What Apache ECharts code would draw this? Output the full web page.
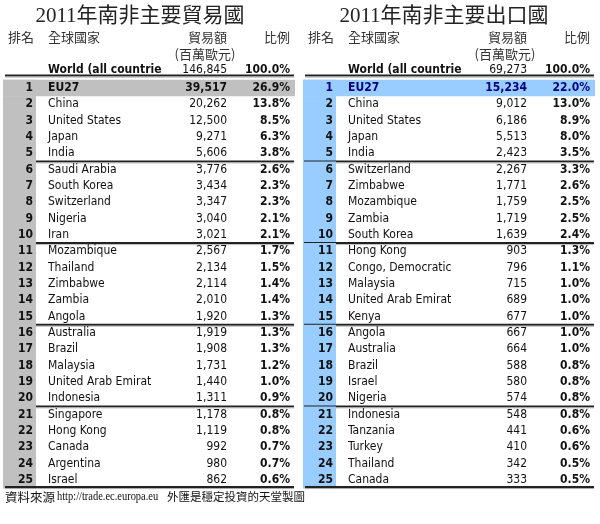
<!DOCTYPE html>
<html>
<head>
<meta charset="utf-8">
<script src="https://cdn.jsdelivr.net/npm/echarts@6/dist/echarts.min.js"></script>
<style>
  html, body { margin: 0; padding: 0; background: #fff; }
  #chart { width: 600px; height: 524px; }
</style>
</head>
<body>
<div id="chart"></div>
<script>
// 2011年南非主要貿易國
const tradeCountries = ['EU27', 'China', 'United States', 'Japan', 'India',
  'Saudi Arabia', 'South Korea', 'Switzerland', 'Nigeria', 'Iran',
  'Mozambique', 'Thailand', 'Zimbabwe', 'Zambia', 'Angola',
  'Australia', 'Brazil', 'Malaysia', 'United Arab Emirates', 'Indonesia',
  'Singapore', 'Hong Kong', 'Canada', 'Argentina', 'Israel']
const tradeValues = [39517, 20262, 12500, 9271, 5606, 3776, 3434, 3347, 3040, 3021,
  2567, 2134, 2114, 2010, 1920, 1919, 1908, 1731, 1440, 1311, 1178, 1119, 992, 980, 862]
const tradeShares = [26.9, 13.8, 8.5, 6.3, 3.8, 2.6, 2.3, 2.3, 2.1, 2.1,
  1.7, 1.5, 1.4, 1.4, 1.3, 1.3, 1.3, 1.2, 1.0, 0.9, 0.8, 0.8, 0.7, 0.7, 0.6]
const tradeWorld = 146845

// 2011年南非主要出口國
const exportCountries = ['EU27', 'China', 'United States', 'Japan', 'India',
  'Switzerland', 'Zimbabwe', 'Mozambique', 'Zambia', 'South Korea',
  'Hong Kong', 'Congo, Democratic Republic', 'Malaysia', 'United Arab Emirates', 'Kenya',
  'Angola', 'Australia', 'Brazil', 'Israel', 'Nigeria',
  'Indonesia', 'Tanzania', 'Turkey', 'Thailand', 'Canada']
const exportValues = [15234, 9012, 6186, 5513, 2423, 2267, 1771, 1759, 1719, 1639,
  903, 796, 715, 689, 677, 667, 664, 588, 580, 574, 548, 441, 410, 342, 333]
const exportShares = [22.0, 13.0, 8.9, 8.0, 3.5, 3.3, 2.6, 2.5, 2.5, 2.4,
  1.3, 1.1, 1.0, 1.0, 1.0, 1.0, 1.0, 0.8, 0.8, 0.8, 0.8, 0.6, 0.6, 0.5, 0.5]
const exportWorld = 69273

const ranks = tradeCountries.map(function (_, i) { return i + 1 })

const titles = ['2011年南非主要貿易國', '2011年南非主要出口國']
const headers = ['排名', '全球國家', '貿易額', '(百萬歐元)', '比例']
const sourceLabel = '資料來源'
const sourceUrl = 'http://trade.ec.europa.eu'
const credit = '外匯是穩定投資的天堂製圖'

const TXT = "'DejaVu Sans Condensed', 'DejaVu Sans', sans-serif"
const CJK = "'Noto Sans CJK TC', sans-serif"
const WORLD_ROW = -0.1
const TOP_RULE = 0.24
const NAME_W = 116

function fmt(v) { return v.toLocaleString('en-US') }

function makeRender(countries, values, shares, world, look) {
  return function (params, api) {
    const i = params.dataIndex
    const rank = api.value(0)
    const p = api.coord([0, rank])
    const right = api.coord([292, rank])[0]
    const h = api.size([0, 1])[1]
    const top = p[1] - h / 2
    const cx = function (x) { return api.coord([x, rank])[0] }
    const bold = rank === 1
    const color = rank === 1 ? look.firstText : '#111'
    const kids = []

    if (rank === 1) {
      kids.push({ type: 'rect', shape: { x: p[0], y: top, width: right - p[0], height: h },
        style: { fill: look.fill } })
    }
    kids.push({ type: 'rect', shape: { x: p[0], y: top, width: cx(33) - p[0], height: h + 0.5 },
      style: { fill: look.fill } })

    kids.push({ type: 'text', style: { x: cx(30), y: p[1], text: String(rank), align: 'right',
      verticalAlign: 'middle', font: 'bold 12px ' + TXT, fill: color } })
    kids.push({ type: 'text', style: { x: cx(45), y: p[1], text: countries[i], align: 'left',
      verticalAlign: 'middle', font: (bold ? 'bold ' : '') + '12px ' + TXT, fill: color,
      width: NAME_W, overflow: 'truncate', ellipsis: '' } })
    kids.push({ type: 'text', style: { x: cx(224), y: p[1], text: fmt(values[i]), align: 'right',
      verticalAlign: 'middle', font: (bold ? 'bold ' : '') + '12px ' + TXT, fill: color } })
    kids.push({ type: 'text', style: { x: cx(287), y: p[1], text: shares[i].toFixed(1) + '%', align: 'right',
      verticalAlign: 'middle', font: 'bold 12px ' + TXT, fill: color } })

    const bottom = top + h
    if (rank === 25) {
      kids.push({ type: 'line', shape: { x1: cx(2), y1: bottom - 1, x2: cx(291), y2: bottom - 1 },
        style: { stroke: '#222', lineWidth: 2 } })
      kids.push({ type: 'line', shape: { x1: cx(2), y1: bottom + 0.5, x2: cx(291), y2: bottom + 0.5 },
        style: { stroke: '#aaa', lineWidth: 1 } })
    } else if (rank % 5 === 0) {
      kids.push({ type: 'line', shape: { x1: cx(look.ruleStart), y1: bottom, x2: cx(291), y2: bottom },
        style: { stroke: '#222', lineWidth: 2 } })
      kids.push({ type: 'line', shape: { x1: cx(look.ruleStart), y1: bottom + 1.5, x2: cx(291), y2: bottom + 1.5 },
        style: { stroke: '#bbb', lineWidth: 1 } })
    }

    if (i === 0) {
      const wy = api.coord([0, WORLD_ROW])[1]
      const ty = api.coord([0, TOP_RULE])[1]
      kids.push({ type: 'text', style: { x: cx(45), y: wy, text: 'World (all countries)', align: 'left',
        verticalAlign: 'middle', font: 'bold 12px ' + TXT, fill: '#111',
        width: NAME_W + 2, overflow: 'truncate', ellipsis: '' } })
      kids.push({ type: 'text', style: { x: cx(224), y: wy, text: fmt(world), align: 'right',
        verticalAlign: 'middle', font: '12px ' + TXT, fill: '#111' } })
      kids.push({ type: 'text', style: { x: cx(287), y: wy, text: '100.0%', align: 'right',
        verticalAlign: 'middle', font: 'bold 12px ' + TXT, fill: '#111' } })
      kids.push({ type: 'line', shape: { x1: cx(2), y1: ty, x2: cx(291), y2: ty },
        style: { stroke: '#222', lineWidth: 2 } })
      kids.push({ type: 'line', shape: { x1: cx(2), y1: ty + 1.5, x2: cx(291), y2: ty + 1.5 },
        style: { stroke: '#aaa', lineWidth: 1 } })
    }
    return { type: 'group', children: kids }
  }
}

function headerTexts(x0) {
  const s = { fill: '#333', font: '13px ' + CJK, verticalAlign: 'middle' }
  return [
    { type: 'text', x: x0 + 5, y: 37, style: Object.assign({ text: headers[0], align: 'left' }, s) },
    { type: 'text', x: x0 + 45, y: 37, style: Object.assign({ text: headers[1], align: 'left' }, s) },
    { type: 'text', x: x0 + 224, y: 37, style: Object.assign({ text: headers[2], align: 'right' }, s) },
    { type: 'text', x: x0 + 202, y: 54, style: Object.assign({ text: headers[3], align: 'center' }, s) },
    { type: 'text', x: x0 + 287, y: 37, style: Object.assign({ text: headers[4], align: 'right' }, s) }
  ]
}

const chart = echarts.init(document.getElementById('chart'))
const gridTop = 79.8
const rowH = 16.33

chart.setOption({
  animation: false,
  grid: [
    { left: 3, top: gridTop, width: 292, height: rowH * 25 },
    { left: 303, top: gridTop, width: 292, height: rowH * 25 }
  ],
  xAxis: [
    { gridIndex: 0, type: 'value', min: 0, max: 292, show: false },
    { gridIndex: 1, type: 'value', min: 0, max: 292, show: false }
  ],
  yAxis: [
    { gridIndex: 0, type: 'value', min: 0.5, max: 25.5, inverse: true, show: false },
    { gridIndex: 1, type: 'value', min: 0.5, max: 25.5, inverse: true, show: false }
  ],
  graphic: [
    { type: 'text', x: 140, y: 16, style: { text: titles[0], align: 'center', verticalAlign: 'middle',
      font: "21px 'Liberation Serif', 'Noto Sans CJK TC', serif", fill: '#222' } },
    { type: 'text', x: 444, y: 16, style: { text: titles[1], align: 'center', verticalAlign: 'middle',
      font: "21px 'Liberation Serif', 'Noto Sans CJK TC', serif", fill: '#222' } },
    { type: 'text', x: 5, y: 497, style: { text: sourceLabel, align: 'left', verticalAlign: 'middle',
      font: '12.5px ' + CJK, fill: '#111' } },
    // 網址字體很窄，橫向壓縮
    { type: 'text', x: 57, y: 497, scaleX: 0.87, style: { text: sourceUrl, align: 'left', verticalAlign: 'middle',
      font: "12px 'Liberation Serif', serif", fill: '#111' } },
    { type: 'text', x: 167, y: 497, style: { text: credit, align: 'left', verticalAlign: 'middle',
      font: '11.5px ' + CJK, fill: '#111' } }
  ].concat(headerTexts(3), headerTexts(303)),
  series: [
    {
      type: 'custom', xAxisIndex: 0, yAxisIndex: 0, clip: false,
      encode: { y: 0 },
      data: ranks.map(function (r) { return [r] }),
      renderItem: makeRender(tradeCountries, tradeValues, tradeShares, tradeWorld,
        { fill: '#c0c0c0', firstText: '#111', ruleStart: 33 })
    },
    {
      type: 'custom', xAxisIndex: 1, yAxisIndex: 1, clip: false,
      encode: { y: 0 },
      data: ranks.map(function (r) { return [r] }),
      renderItem: makeRender(exportCountries, exportValues, exportShares, exportWorld,
        { fill: '#99ccff', firstText: '#000080', ruleStart: 1 })
    }
  ]
})
</script>
</body>
</html>
